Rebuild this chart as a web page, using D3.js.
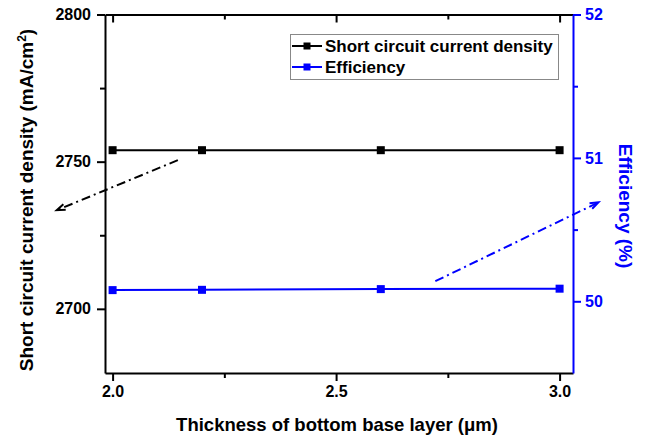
<!DOCTYPE html>
<html>
<head>
<meta charset="utf-8">
<script src="https://cdn.jsdelivr.net/npm/d3@7"></script>
<style>
body { margin: 0; background: #fff; }
text { font-family: "Liberation Sans", Arial, sans-serif; font-weight: bold; }
</style>
</head>
<body>
<div id="chart"></div>
<script>
// values
var thickness = [2.0, 2.2, 2.6, 3.0];
var jscValues = [2753.9, 2753.9, 2753.9, 2753.9];
var effValues = [50.078, 50.080, 50.085, 50.088];

var xTicks = [2.0, 2.5, 3.0];
var xMinor = [2.25, 2.75];
var leftTicks = [2700, 2750, 2800];
var leftMinor = [2725, 2775];
var rightTicks = [50, 51, 52];
var rightMinor = [50.5, 51.5];

// dash-dot arrows, in data units (start, end)
var arrowJsc = [[2.146, 2750.5], [1.875, 2733.5]];
var arrowEff = [[2.722, 50.14], [3.087, 50.69]];

var width = 647, height = 440;
var pLeft = 105, pRight = 573, pTop = 14.5, pBottom = 373;
var blue = "#0000ff";

var svg = d3.select("#chart").append("svg")
    .attr("width", width)
    .attr("height", height);

var x = d3.scaleLinear().domain([1.983, 3.03]).range([pLeft, pRight]);
var yL = d3.scaleLinear().domain([2678.2, 2800]).range([pBottom, pTop]);
var yR = d3.scaleLinear().domain([49.5, 52]).range([pBottom, pTop]);

function styleAxis(g, color, size) {
  g.selectAll("path").attr("stroke", color).attr("stroke-width", 2);
  g.selectAll("line").attr("stroke", color).attr("stroke-width", 2);
  g.selectAll("text").attr("fill", color).style("font-size", size + "px")
    .style("font-family", '"Liberation Sans", Arial, sans-serif').style("font-weight", "bold");
}

// bottom axis
var gx = svg.append("g").attr("transform", "translate(0," + pBottom + ")")
  .call(d3.axisBottom(x).tickValues(xTicks).tickFormat(d3.format(".1f"))
    .tickSizeInner(8).tickSizeOuter(0).tickPadding(5));
styleAxis(gx, "#000", 16);
var gxm = svg.append("g").attr("transform", "translate(0," + pBottom + ")")
  .call(d3.axisBottom(x).tickValues(xMinor).tickFormat("").tickSizeInner(5).tickSizeOuter(0));
styleAxis(gxm, "#000", 16);
gxm.select("path").remove();

// top axis, ticks pointing in
var gt = svg.append("g").attr("transform", "translate(0," + pTop + ")")
  .call(d3.axisTop(x).tickValues(xTicks).tickFormat("").tickSizeInner(-8).tickSizeOuter(0));
styleAxis(gt, "#000", 16);
var gtm = svg.append("g").attr("transform", "translate(0," + pTop + ")")
  .call(d3.axisTop(x).tickValues(xMinor).tickFormat("").tickSizeInner(-5).tickSizeOuter(0));
styleAxis(gtm, "#000", 16);
gtm.select("path").remove();

// left axis
var gl = svg.append("g").attr("transform", "translate(" + pLeft + ",0)")
  .call(d3.axisLeft(yL).tickValues(leftTicks).tickFormat(d3.format("d"))
    .tickSizeInner(8).tickSizeOuter(0).tickPadding(6));
styleAxis(gl, "#000", 16);
var glm = svg.append("g").attr("transform", "translate(" + pLeft + ",0)")
  .call(d3.axisLeft(yL).tickValues(leftMinor).tickFormat("").tickSizeInner(5).tickSizeOuter(0));
styleAxis(glm, "#000", 16);
glm.select("path").remove();

// right axis
var gr = svg.append("g").attr("transform", "translate(" + pRight + ",0)")
  .call(d3.axisRight(yR).tickValues(rightTicks).tickFormat(d3.format("d"))
    .tickSizeInner(8).tickSizeOuter(0).tickPadding(4));
styleAxis(gr, blue, 16);
var grm = svg.append("g").attr("transform", "translate(" + pRight + ",0)")
  .call(d3.axisRight(yR).tickValues(rightMinor).tickFormat("").tickSizeInner(5).tickSizeOuter(0));
styleAxis(grm, blue, 16);
grm.select("path").remove();

// axis titles
svg.append("text")
  .attr("x", (pLeft + pRight) / 2 - 2)
  .attr("y", 431)
  .attr("text-anchor", "middle")
  .style("font-size", "18.5px")
  .text("Thickness of bottom base layer (\u03bcm)");

var lt = svg.append("text")
  .attr("transform", "translate(33,200) rotate(-90)")
  .attr("text-anchor", "middle")
  .style("font-size", "19px");
lt.append("tspan").text("Short circuit current density (mA/cm");
lt.append("tspan").attr("dy", -7).style("font-size", "12px").text("2");
lt.append("tspan").attr("dy", 7).text(")");

svg.append("text")
  .attr("transform", "translate(619,206) rotate(90)")
  .attr("text-anchor", "middle")
  .attr("fill", blue)
  .style("font-size", "19px")
  .text("Efficiency (%)");

// series
var lineL = d3.line().x(function (d, i) { return x(thickness[i]); }).y(function (d) { return yL(d); });
var lineR = d3.line().x(function (d, i) { return x(thickness[i]); }).y(function (d) { return yR(d); });

svg.append("path").datum(jscValues)
  .attr("d", lineL).attr("fill", "none").attr("stroke", "#000").attr("stroke-width", 2);
svg.selectAll("rect.jsc").data(jscValues).enter().append("rect")
  .attr("class", "jsc")
  .attr("x", function (d, i) { return x(thickness[i]) - 4; })
  .attr("y", function (d) { return yL(d) - 4; })
  .attr("width", 8).attr("height", 8).attr("fill", "#000");

svg.append("path").datum(effValues)
  .attr("d", lineR).attr("fill", "none").attr("stroke", blue).attr("stroke-width", 2);
svg.selectAll("rect.eff").data(effValues).enter().append("rect")
  .attr("class", "eff")
  .attr("x", function (d, i) { return x(thickness[i]) - 4; })
  .attr("y", function (d) { return yR(d) - 4; })
  .attr("width", 8).attr("height", 8).attr("fill", blue);

// dash-dot arrows
function drawArrow(pts, yScale, color) {
  var x1 = x(pts[0][0]), y1 = yScale(pts[0][1]);
  var x2 = x(pts[1][0]), y2 = yScale(pts[1][1]);
  svg.append("line")
    .attr("x1", x1).attr("y1", y1).attr("x2", x2).attr("y2", y2)
    .attr("stroke", color).attr("stroke-width", 2)
    .attr("stroke-dasharray", "9,4,2,4");
  var ang = Math.atan2(y2 - y1, x2 - x1);
  var len = 9, spread = 0.35;
  var p = [
    [x2 - len * Math.cos(ang - spread), y2 - len * Math.sin(ang - spread)],
    [x2, y2],
    [x2 - len * Math.cos(ang + spread), y2 - len * Math.sin(ang + spread)]
  ];
  svg.append("path")
    .attr("d", d3.line()(p))
    .attr("fill", "none").attr("stroke", color).attr("stroke-width", 2);
}
drawArrow(arrowJsc, yL, "#000");
drawArrow(arrowEff, yR, blue);

// legend
var leg = svg.append("g");
leg.append("rect")
  .attr("x", 290.5).attr("y", 34.5).attr("width", 268).attr("height", 45)
  .attr("fill", "#fff").attr("stroke", "#888").attr("stroke-width", 1);
var legItems = [
  { label: "Short circuit current density", color: "#000" },
  { label: "Efficiency", color: blue }
];
legItems.forEach(function (it, i) {
  var cy = 46 + i * 21;
  leg.append("line").attr("x1", 292).attr("x2", 322).attr("y1", cy).attr("y2", cy)
    .attr("stroke", it.color).attr("stroke-width", 2);
  leg.append("rect").attr("x", 303.5).attr("y", cy - 3.5).attr("width", 7).attr("height", 7)
    .attr("fill", it.color);
  leg.append("text").attr("x", 325).attr("y", cy + 6)
    .style("font-size", "17px").attr("fill", "#000").text(it.label);
});
</script>
</body>
</html>
